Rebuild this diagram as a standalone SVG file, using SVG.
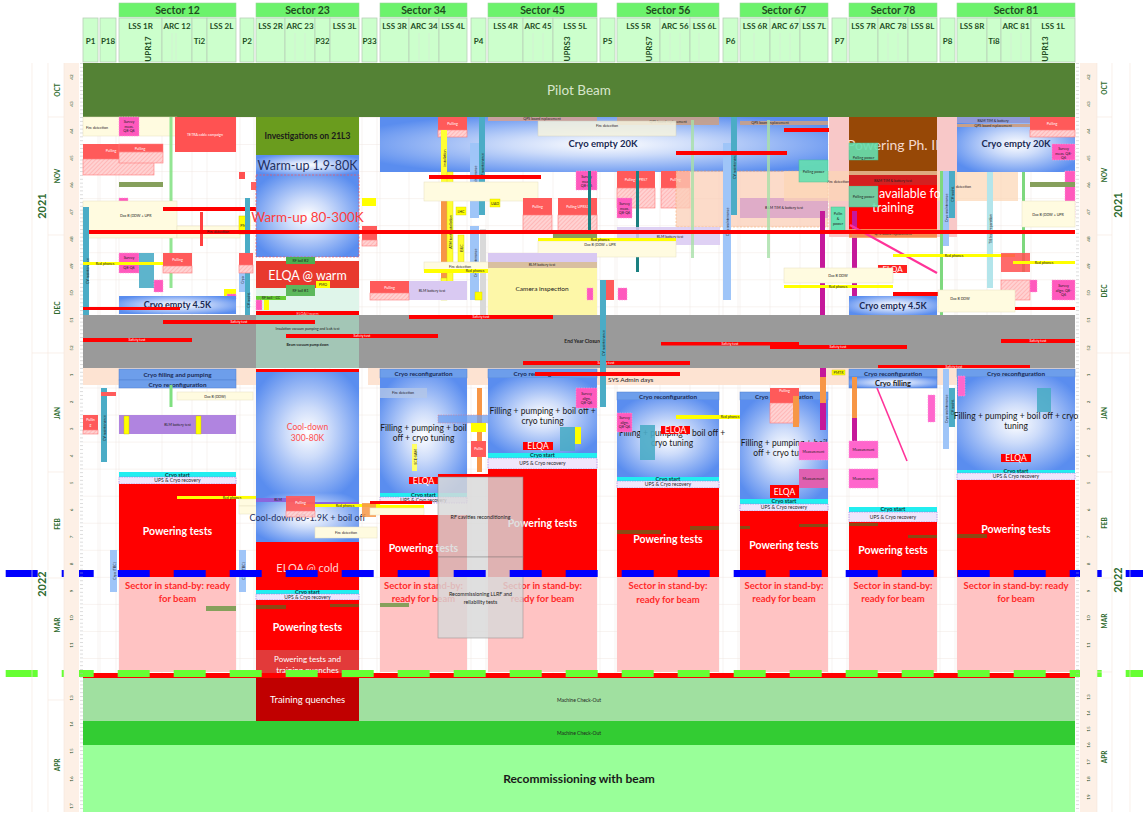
<svg xmlns="http://www.w3.org/2000/svg" width="1143" height="817" viewBox="0 0 1143 817">
<style>
text{font-family:Lato,"Liberation Sans",sans-serif}
.hd{font-size:10.5px;font-weight:700;fill:#1f4e1f;text-anchor:middle}
.sb{font-size:8px;font-weight:700;fill:#1f4e1f;text-anchor:middle}
.tn{font-size:3.6px;fill:#222}
.tc{font-size:3.6px;fill:#222;text-anchor:middle}
.tw{font-size:3.6px;fill:#fff;text-anchor:middle}
.sbox{fill:#ccffcc;stroke:#b8cfb8;stroke-width:.8}
.sec{fill:#6cf36c;stroke:#9ad89a;stroke-width:.6}
.rd{fill:#ff0000}
.sby{fill:#ffc3c3}
.cs{fill:#22eef0}
.ups{fill:#efe6fc;stroke:#a070e0;stroke-width:.6;stroke-dasharray:1.5 1}
.pk{fill:#ff59bd;stroke:#ff9ad8;stroke-width:.6;stroke-dasharray:1.5 1}
.tl{fill:#4bacc6}
.lbl{fill:#9fc5f8}
.yl{fill:#ffff00}
.py{fill:#fffbe0;stroke:#e6e0c0;stroke-width:.5}
.pull{fill:#ff5a5a}
.ht{fill:url(#hatch);stroke:#ff7a7a;stroke-width:.6}
.brn{fill:#8a4a14}
.ol{fill:#86a05c}
.pt{font-size:10.5px;font-weight:700;fill:#fff;text-anchor:middle}
.st{font-size:9.5px;font-weight:700;fill:#ff2a2a;text-anchor:middle}
.cr{fill:#6d9eeb;stroke:#4f7fd0;stroke-width:.5}
.crt{font-size:6.3px;font-weight:700;fill:#1a2a55;text-anchor:middle}
.cst{font-size:5.6px;font-weight:700;fill:#0a3a3a;text-anchor:middle}
.upt{font-size:5px;fill:#222;text-anchor:middle}
.elt{font-size:8.5px;fill:#fff;text-anchor:middle}
.gr{fill:url(#cg)}
.ft{font-size:8.5px;font-weight:700;fill:#1a1a1a;text-anchor:middle}
.ax{font-size:4.6px;fill:#1f4e1f;text-anchor:middle}
.mo{font-size:6.5px;font-weight:700;fill:#2d6a2d;text-anchor:middle}
.yr{font-size:11px;font-weight:700;fill:#2d6a2d;text-anchor:middle}
.grid{stroke:#efe7e2;stroke-width:.5}
.mag{fill:#c5189a}
.msr{fill:#ff66cc;stroke:#ff99dd;stroke-width:.6;stroke-dasharray:1.5 1}
.grn{fill:#66e0b0;stroke:#44c090;stroke-width:.5}
</style>
<defs>
<radialGradient id="cg" cx="0.5" cy="0.5" r="0.6">
<stop offset="0" stop-color="#ffffff"/>
<stop offset="0.35" stop-color="#cddcfa"/>
<stop offset="1" stop-color="#5a8def"/>
</radialGradient>
<pattern id="hatch" patternUnits="userSpaceOnUse" width="3" height="3" patternTransform="rotate(45)">
<rect width="3" height="3" fill="#ffd2d2"/>
<line x1="0" y1="0" x2="0" y2="3" stroke="#ff9c9c" stroke-width="1"/>
</pattern>
<pattern id="wk" patternUnits="userSpaceOnUse" x="0" y="117" width="10" height="27.05">
<line x1="0" y1="0.25" x2="10" y2="0.25" stroke="#f1e6df" stroke-width="0.6"/>
</pattern>
<pattern id="tk" patternUnits="userSpaceOnUse" x="0" y="63" width="4" height="3.86">
<line x1="0" y1="0.5" x2="3" y2="0.5" stroke="#b8b8b8" stroke-width="0.5"/>
</pattern>
</defs>

<rect width="1143" height="817" fill="#ffffff"/>

<g id="grid">
<rect x="83" y="117" width="992" height="556" fill="url(#wk)"/>
<path class="grid" d="M98 117V812M100 117V812M116 117V812M119 117V812M162 117V812M192 117V812M207 117V812M236 117V812M240 117V812M254 117V812M256 117V812M285 117V812M315 117V812M330 117V812M359 117V812M362 117V812M377 117V812M380 117V812M409 117V812M439 117V812M467 117V812M471 117V812M486 117V812M488 117V812M523 117V812M553 117V812M597 117V812M600 117V812M615 117V812M617 117V812M660 117V812M690 117V812M719 117V812M723 117V812M738 117V812M740 117V812M770 117V812M800 117V812M828 117V812M832 117V812M847 117V812M849 117V812M878 117V812M908 117V812M937 117V812M940 117V812M955 117V812M957 117V812M987 117V812M1001 117V812M1031 117V812"/>
</g>

<g id="pilot-beam">
<rect x="83" y="63" width="992" height="54" fill="#548235"/>
<text x="579" y="95" font-size="13.5" fill="#d8e6cc" text-anchor="middle">Pilot Beam</text>
</g>

<g id="autumn-sector12">
<rect class="py" x="83" y="117" width="94" height="19"/>
<text class="tn" x="86" y="129">Fire detection</text>
<rect class="pk" x="119" y="117" width="20" height="19"/>
<text class="tc" x="129" y="123">Survey</text><text class="tc" x="129" y="127.5">meas.</text><text class="tc" x="129" y="132">Q8-Q6</text>
<rect x="175" y="117" width="61" height="35" fill="#ff5252"/>
<text class="tw" x="205" y="136">TETRA cable campaign</text>
<rect class="pull" x="83" y="144" width="80" height="15"/>
<text class="tw" x="111" y="152" font-size="4.5">Pulling</text>
<rect class="ht" x="83" y="159" width="71" height="16"/>
<rect class="pull" x="119" y="144" width="44" height="8" stroke="#ff8080" stroke-width=".5"/>
<text class="tw" x="140" y="150" font-size="4.5">Pulling</text>
<rect class="ht" x="119" y="152" width="44" height="11"/>
<rect x="239" y="172" width="6" height="7" fill="#ff5050"/>
<rect x="251" y="182" width="5" height="8" fill="#ff6060"/>
<rect class="ol" x="119" y="182" width="44" height="5"/>
<rect x="169.5" y="117" width="3" height="171" fill="#80e080" opacity=".85"/>
<rect class="pk" x="119" y="198" width="9" height="20"/>
<rect class="py" x="83" y="201" width="94" height="37"/>
<text class="tn" x="120" y="217">Dax B (DDW + UPR</text>
<rect class="py" x="177" y="226" width="63" height="12"/>
<rect class="rd" x="163" y="207" width="152" height="4"/>
<rect class="tl" x="83" y="207" width="6" height="128"/>
<text class="tc" transform="rotate(-90 87 271)" x="87" y="272.5">CV maintenance</text>
<rect x="200" y="212" width="3" height="34" fill="#ff4040"/>
<rect class="yl" x="239" y="216" width="11" height="18" stroke="#d8c800" stroke-width=".5"/>
<text class="tc" x="244.5" y="226.5">PMO</text>
<rect class="tl" x="245" y="198" width="5" height="136"/>
<text class="tc" transform="rotate(-90 248 300)" x="248" y="301.5">CV maint.</text>
<rect class="lbl" x="239" y="258" width="6" height="34"/>
<text class="tc" transform="rotate(-90 242 280)" x="242" y="281.5">Cryo</text>
<rect class="pull" x="239" y="253" width="14" height="12"/>
<rect class="ht" x="239" y="265" width="14" height="8"/>
<rect class="pk" x="119" y="253" width="20" height="20"/>
<text class="tc" x="129" y="259">Survey</text>
<text class="tc" x="129" y="269">Q8-Q6</text>
<rect class="tl" x="139" y="253" width="15" height="35" opacity=".9"/>
<rect class="yl" x="83" y="262" width="94" height="3"/>
<text class="tc" x="105" y="264.8">Red phones</text>
<rect class="pk" x="154" y="280" width="9" height="12"/>
<rect class="pull" x="163" y="253" width="29" height="13"/>
<text class="tw" x="177.5" y="261" font-size="4.5">Pulling</text>
<rect class="ht" x="163" y="266" width="29" height="7"/>
<rect class="yl" x="224" y="289" width="12" height="7"/>
<rect class="pk" x="227" y="294" width="9" height="6"/>
<rect class="gr" x="119" y="296" width="117" height="18"/>
<text x="177.5" y="308" font-size="9" font-weight="700" fill="#1a2a55" text-anchor="middle">Cryo empty 4.5K</text>
<rect class="rd" x="83" y="307" width="97" height="3"/>
</g>

<g id="autumn-sector23">
<rect x="256" y="117" width="103" height="38" fill="#6a9c1e"/>
<text class="ft" x="307.5" y="139">Investigations on 21L3</text>
<rect class="gr" x="256" y="155" width="103" height="20"/>
<text x="307.5" y="170" font-size="12.5" fill="#1f3060" text-anchor="middle">Warm-up 1.9-80K</text>
<rect class="gr" x="256" y="175" width="103" height="82" stroke="#ff5050" stroke-width=".7" stroke-dasharray="2 1.5"/>
<text x="307.5" y="222" font-size="13.5" fill="#ff3c3c" text-anchor="middle">Warm-up 80-300K</text>
<rect x="256" y="261" width="103" height="27" fill="#e8392e"/>
<text x="307.5" y="280" font-size="12.5" fill="#fff" text-anchor="middle">ELQA @ warm</text>
<rect x="286" y="257" width="29" height="7" fill="#4caf50"/>
<text class="tc" x="300.5" y="262">RF ball B2</text>
<rect x="256" y="288" width="103" height="25" fill="#dff5ea"/>
<rect x="286" y="285" width="29" height="11" fill="#5cb85c"/>
<text class="tc" x="300.5" y="292">RF ball B1</text>
<rect class="yl" x="316" y="281" width="14" height="7"/>
<text class="tc" x="323" y="286">PMO</text>
<rect x="256" y="296" width="30" height="4" fill="#66cc33"/>
<text class="tc" x="271" y="299">RF ball - CC</text>
<rect class="pk" x="256" y="300" width="6" height="10"/>
<rect class="yl" x="264" y="300" width="5" height="10"/>
<rect class="rd" x="256" y="311" width="103" height="4"/>
<text x="307.5" y="314.5" font-size="3.8" fill="#ffc8c8" text-anchor="middle">ELQA@warm</text>
<rect class="yl" x="362" y="198" width="14" height="8"/>
<rect class="pull" x="362" y="226" width="15" height="14"/>
<rect class="ht" x="362" y="240" width="15" height="6"/>
</g>

<g id="autumn-sectors-34-67">
<rect class="gr" x="380" y="117" width="448" height="55"/>
<text x="603" y="147" font-size="9.5" font-weight="700" fill="#1a2a55" text-anchor="middle">Cryo empty 20K</text>
<rect x="488" y="117" width="109" height="4" fill="#c9a0a0"/>
<text class="tc" x="542" y="120">QPS board replacement</text>
<rect x="617" y="117" width="102" height="8" fill="#c8a08a" opacity=".9"/>
<text class="tc" x="668" y="122.5">QPS board replacement</text>
<rect x="740" y="121" width="88" height="4" fill="#c8a08a" opacity=".9"/>
<text class="tc" x="770" y="124.3">QPS board replacement</text>
<rect x="538" y="121" width="138" height="15" fill="#f6f4e0" opacity=".85" stroke="#d8d4b8" stroke-width=".5"/>
<text class="tc" x="607" y="127">Fire detection</text>
<rect class="pull" x="438" y="117" width="29" height="13"/>
<text class="tw" x="452.5" y="125" font-size="4.5">Pulling</text>
<rect class="ht" x="438" y="130" width="29" height="7"/>
<rect x="441" y="130" width="6" height="116" fill="#ffff33"/>
<text class="tc" transform="rotate(-90 444 158)" x="444" y="159.5">installation</text>
<rect x="441" y="187" width="6" height="91" fill="#f79646"/>
<rect x="441" y="278" width="6" height="22" fill="#ffff33" stroke="#c8c000" stroke-width=".4"/>
<rect x="447" y="172" width="6" height="123" fill="#ffff33" stroke="#d8d000" stroke-width=".4"/>
<text class="tc" transform="rotate(-90 450 232)" x="450" y="233.5">ATM tank installation</text>
<rect x="458" y="235" width="6" height="27" fill="#ffff33" stroke="#d8d000" stroke-width=".4"/>
<text class="tc" transform="rotate(-90 461 248)" x="461" y="249.5">BUC</text>
<rect class="lbl" x="470" y="143" width="9" height="75"/>
<text class="tc" transform="rotate(-90 474.5 180)" x="474.5" y="182" font-size="4.2">Cryo maintenance</text>
<rect class="lbl" x="470" y="226" width="9" height="74"/>
<text class="tc" transform="rotate(-90 474.5 263)" x="474.5" y="265" font-size="4.2">Cryo maintenance</text>
<rect class="tl" x="479" y="117" width="6" height="98"/>
<text class="tc" transform="rotate(-90 482 166)" x="482" y="167.5">CV maintenance</text>
<rect x="480" y="229" width="6" height="86" fill="#d9d9d9"/>
<rect class="rd" x="429" y="175" width="112" height="4"/>
<rect class="py" x="424" y="182" width="114" height="19"/>
<rect class="yl" x="456" y="207" width="10" height="8" stroke="#d8d000" stroke-width=".4"/>
<text class="tc" x="461" y="212.5">LHC</text>
<rect class="yl" x="490" y="199" width="10" height="8" stroke="#d8d000" stroke-width=".4"/>
<text class="tc" x="495" y="204.5">UAD</text>
<rect class="pull" x="523" y="198" width="29" height="17"/>
<text class="tw" x="537.5" y="208" font-size="4.5">Pulling</text>
<rect class="ht" x="523" y="215" width="29" height="18"/>
<rect class="pull" x="558" y="198" width="39" height="17"/>
<text class="tw" x="577.5" y="208" font-size="4.5">Pulling UPR53</text>
<rect class="ht" x="558" y="215" width="39" height="18"/>
<rect class="pk" x="576" y="171" width="21" height="19"/>
<text class="tc" x="586.5" y="178">Survey</text><text class="tc" x="586.5" y="182.5">meas.</text><text class="tc" x="586.5" y="187">Q8-Q6</text>
<rect x="588" y="171" width="3" height="101" fill="#1a8080"/>
<rect class="pull" x="617" y="171" width="38" height="17"/>
<text class="tw" x="636" y="181" font-size="4.5">Pulling UPR57</text>
<rect class="ht" x="617" y="188" width="38" height="20"/>
<rect class="pull" x="661" y="171" width="29" height="17"/>
<text class="tw" x="675.5" y="181" font-size="4.5">Pulling</text>
<rect class="ht" x="661" y="188" width="29" height="20"/>
<rect x="636" y="171" width="3" height="101" fill="#1a8080"/>
<rect class="pk" x="617" y="198" width="15" height="20"/>
<text class="tc" x="624.5" y="205">Survey</text><text class="tc" x="624.5" y="209.5">meas.</text><text class="tc" x="624.5" y="214">Q8-Q6</text>
<rect x="676" y="171" width="152" height="56" fill="#fbcfb8" opacity=".75" stroke="#f79646" stroke-width=".6" stroke-dasharray="2 1.5"/>
<rect x="740" y="198" width="88" height="20" fill="#d9a3c8" opacity=".85"/>
<text class="tc" x="784" y="209">B&amp;M TIM &amp; battery test</text>
<rect x="617" y="227" width="103" height="18" fill="#d9c9f2" opacity=".85"/>
<text class="tc" x="670" y="237.5">BLM battery test</text>
<rect class="ol" x="553" y="234" width="44" height="4"/>
<rect class="py" x="538" y="241" width="138" height="16"/>
<rect class="yl" x="538" y="238" width="138" height="3"/>
<text class="tc" x="600" y="240.6">Red phones</text>
<text class="tc" x="600" y="246">Dax B (DDW + UPR</text>
<rect class="py" x="424" y="262" width="114" height="9"/>
<text class="tc" x="460" y="267.5">Fire detection</text>
<rect class="yl" x="424" y="269" width="114" height="4"/>
<text class="tc" x="475" y="272.2">Red phones</text>
<rect x="488" y="253" width="109" height="9" fill="#d9c9f2"/>
<rect x="488" y="262" width="109" height="6" fill="#d9bf9f"/>
<text class="tc" x="542" y="266.3">BLM battery test</text>
<rect x="488" y="268" width="109" height="47" fill="#fdf7a8"/>
<text x="542" y="291" font-size="6.5" fill="#222" text-anchor="middle">Camera inspection</text>
<rect x="409" y="281" width="58" height="19" fill="#d9c9f2"/>
<text class="tc" x="432" y="292">BLM battery test</text>
<rect class="pull" x="370" y="281" width="39" height="12"/>
<text class="tw" x="389.5" y="288.5" font-size="4.5">Pulling</text>
<rect class="ht" x="370" y="293" width="39" height="7"/>
<rect class="yl" x="475" y="292" width="7" height="8" stroke="#d8d000" stroke-width=".4"/>
<rect class="pk" x="587" y="288" width="6" height="12"/>
<rect class="pull" x="606" y="280" width="8" height="20"/>
<rect class="pk" x="618" y="288" width="9" height="12"/>
<rect class="lbl" x="723" y="143" width="8" height="157"/>
<text class="tc" transform="rotate(-90 727 222)" x="727" y="223.5" font-size="4.2">Cryo maintenance</text>
<rect class="tl" x="731" y="117" width="6" height="98"/>
<text class="tc" transform="rotate(-90 734 166)" x="734" y="167.5">CV maintenance</text>
<rect x="691" y="120" width="3" height="138" fill="#a8e0a8" opacity=".8"/>
<rect x="767" y="120" width="3" height="138" fill="#a8e0a8" opacity=".8"/>
<rect class="rd" x="676" y="151" width="111" height="4"/>
<rect class="rd" x="784" y="128" width="111" height="4"/>
</g>

<g id="autumn-sector78-81">
<rect x="829" y="117" width="20" height="120" fill="#f8c8c8"/>
<rect x="937" y="117" width="20" height="120" fill="#f8c8c8"/>
<rect x="849" y="117" width="88" height="58" fill="#974806"/>
<text x="893" y="150" font-size="14" fill="#f4d8cc" text-anchor="middle">Powering Ph. II</text>
<rect x="784" y="171" width="234" height="30" fill="#fcd5b4" opacity=".7"/>
<text class="tc" x="838" y="183">Fire detection</text>
<text class="tc" x="960" y="188">Fire detection</text>
<rect x="849" y="175" width="88" height="10" fill="#d42020"/>
<text class="tc" x="893" y="181.5">B&amp;M TIM &amp; battery test</text>
<rect x="849" y="185" width="88" height="52" fill="#ff0000"/>
<text x="879" y="198" font-size="12.5" fill="#fff">available for</text>
<text x="893" y="212" font-size="12.5" fill="#fff" text-anchor="middle">training</text>
<rect class="grn" x="849" y="143" width="29" height="17" opacity=".9"/>
<text class="tc" x="863.5" y="158.5">Polling power</text>
<rect class="grn" x="799" y="160" width="29" height="22" opacity=".9"/>
<text class="tc" x="813.5" y="172.5">Polling power</text>
<rect class="grn" x="849" y="186" width="29" height="21" opacity=".9"/>
<text class="tc" x="863.5" y="198">Polling power</text>
<rect class="grn" x="831" y="207" width="14" height="26"/>
<text class="tc" x="838" y="215">Pullin</text><text class="tc" x="838" y="220">&amp;</text><text class="tc" x="838" y="225">power</text>
<rect class="mag" x="820" y="211" width="5" height="104"/>
<rect class="mag" x="852" y="211" width="5" height="104"/>
<rect x="849" y="229" width="88" height="9" fill="#f4a460" opacity=".85"/>
<text class="tc" x="893" y="234.5">QPS board replacement</text>
<line x1="850" y1="225" x2="937" y2="273" stroke="#ff3399" stroke-width="2.2"/>
<rect x="940" y="171" width="3" height="144" fill="#7ed87e"/>
<rect class="lbl" x="943" y="171" width="6" height="75"/>
<text class="tc" transform="rotate(-90 946 208)" x="946" y="209.5">Cryo maintenance</text>
<rect class="tl" x="949" y="171" width="6" height="47"/>
<text class="tc" transform="rotate(-90 952 194)" x="952" y="195.5">CV maint.</text>
<rect x="987" y="171" width="6" height="117" fill="#b3e5eb"/>
<text class="tc" transform="rotate(-90 990 229)" x="990" y="230.5">Ti8 leak reparation</text>
<rect x="1022" y="171" width="3" height="101" fill="#7ed87e"/>
<rect class="yl" x="893" y="254" width="122" height="3"/>
<text class="tc" x="954" y="256.5">Red phones</text>
<rect x="878" y="265" width="29" height="8" fill="#ff2020"/>
<text x="892.5" y="272" font-size="8" fill="#fff" text-anchor="middle">ELQA</text>
<rect x="1001" y="253" width="29" height="19" fill="#ff5050" opacity=".85"/>
<rect class="yl" x="1013" y="261" width="62" height="3"/>
<text class="tc" x="1044" y="263.5">Red phones</text>
<rect class="py" x="784" y="268" width="109" height="15"/>
<text class="tc" x="838" y="277">Dax B DDW</text>
<rect class="yl" x="784" y="285" width="109" height="3"/>
<text class="tc" x="838" y="287.5">Red phones</text>
<rect class="rd" x="893" y="292" width="125" height="4"/>
<rect class="ht" x="1001" y="280" width="29" height="20"/>
<rect class="pk" x="1030" y="280" width="7" height="12"/>
<rect class="pk" x="1052" y="280" width="23" height="20"/>
<text class="tc" x="1063.5" y="287">Survey</text><text class="tc" x="1063.5" y="291.5">align. Q8-</text><text class="tc" x="1063.5" y="296">Q6</text>
<rect class="py" x="938" y="290" width="77" height="22"/>
<text class="tc" x="960" y="300">Dax B DDW</text>
<rect class="gr" x="849" y="296" width="88" height="19"/>
<text x="893" y="309" font-size="9" font-weight="700" fill="#1a2a55" text-anchor="middle">Cryo empty 4.5K</text>
<rect class="rd" x="1015" y="307" width="60" height="3"/>
<rect class="gr" x="957" y="117" width="118" height="55"/>
<text x="1016" y="147" font-size="9.5" font-weight="700" fill="#1a2a55" text-anchor="middle">Cryo empty 20K</text>
<rect x="957" y="117" width="73" height="6" fill="#8f9ad8"/>
<text class="tc" x="993" y="121.5">B&amp;M TIM &amp; battery</text>
<rect x="957" y="124" width="73" height="3" fill="#c8a08a"/>
<text class="tc" x="993" y="126.6">QPS board replacement</text>
<rect class="pull" x="1030" y="117" width="45" height="13"/>
<text class="tw" x="1052" y="124.5" font-size="4.5">Pulling</text>
<rect class="ht" x="1030" y="130" width="45" height="7"/>
<rect class="pk" x="1052" y="144" width="23" height="16"/>
<text class="tc" x="1063.5" y="150">Survey</text><text class="tc" x="1063.5" y="154.5">meas. Q8-</text><text class="tc" x="1063.5" y="159">Q6</text>
<rect class="pk" x="1065" y="171" width="10" height="47"/>
<rect class="ol" x="1030" y="182" width="45" height="5"/>
<rect class="py" x="1022" y="201" width="53" height="26"/>
<text class="tc" x="1048" y="216">Dax B (DDW + UPR</text>
</g>

<g id="big-red-line">
<rect class="rd" x="89" y="230" width="986" height="4"/>
<text class="tn" x="207" y="233.3">Fire detection</text>
</g>

<g id="end-year-closure">
<rect x="83" y="315" width="992" height="53" fill="#9a9a9a"/>
<rect x="256" y="315" width="103" height="53" fill="#a3c6b6"/>
<text class="tc" x="307.5" y="330" font-size="4">Insulation vacuum pumping and leak test</text>
<text class="tc" x="307.5" y="346" font-size="4" font-weight="700">Beam vacuum pump down</text>
<text x="583" y="343" font-size="5" font-weight="700" fill="#222" text-anchor="middle">End Year Closure</text>
<rect class="rd" x="163" y="320" width="152" height="4"/><text class="tw" x="239" y="323.2">Safety test</text>
<rect class="rd" x="83" y="338" width="109" height="4"/><text class="tw" x="137" y="341.2">Safety test</text>
<rect class="rd" x="286" y="334" width="152" height="4"/><text class="tw" x="362" y="337.2">Safety test</text>
<rect class="rd" x="409" y="315" width="144" height="4"/><text class="tw" x="481" y="318.2">Safety test</text>
<rect class="rd" x="661" y="342" width="138" height="3.5"/><text class="tw" x="730" y="345">Safety test</text>
<rect class="rd" x="770" y="345" width="137" height="4"/><text class="tw" x="838" y="348.2">Safety test</text>
<rect class="rd" x="1001" y="339" width="74" height="4"/><text class="tw" x="1038" y="342.2">Safety test</text>
<rect class="rd" x="523" y="361" width="167" height="4"/><text class="tw" x="606" y="364.2">Safety test</text>
<rect class="rd" x="878" y="365" width="152" height="4"/><text class="tw" x="954" y="368.2">Safety test</text>
<rect x="368" y="368" width="707" height="17" fill="#fde3d2"/>
<rect x="83" y="368" width="173" height="17" fill="#fde3d2"/>
<rect class="tl" x="600" y="280" width="6" height="127"/>
<text class="tc" transform="rotate(-90 603 343)" x="603" y="344.5">CV maintenance</text>
<text x="608" y="381.5" font-size="6.5" fill="#222">SYS Admin days</text>
</g>

<g id="sector12-2022">
<rect class="cr" x="119" y="369" width="117" height="11"/>
<text class="crt" x="177.5" y="377.3">Cryo filling and pumping</text>
<rect class="cr" x="119" y="380" width="117" height="8"/>
<text class="crt" x="177.5" y="386.5" font-size="5.8">Cryo reconfiguration</text>
<rect x="169.5" y="385" width="3" height="22" fill="#80e080"/>
<rect class="py" x="177" y="392" width="76" height="8"/>
<text class="tc" x="215" y="397.5">Dax B (DDW)</text>
<rect class="tl" x="101" y="388" width="6" height="74"/>
<text class="tc" transform="rotate(-90 104 428)" x="104" y="429.5">CV maintenance</text>
<rect class="pull" x="101" y="392" width="15" height="4"/>
<rect class="pull" x="83" y="415" width="15" height="15"/>
<text class="tw" x="90.5" y="421">Pullin</text><text class="tw" x="90.5" y="425.5">g</text>
<rect class="ht" x="83" y="430" width="15" height="4"/>
<rect x="119" y="415" width="117" height="19" fill="#b084e0"/>
<text class="tc" x="177.5" y="426">BLM battery test</text>
<rect class="yl" x="124" y="416" width="5" height="18" stroke="#c8c000" stroke-width=".4"/>
<rect class="yl" x="196" y="416" width="5" height="18" stroke="#c8c000" stroke-width=".4"/>
<rect class="cs" x="119" y="472" width="117" height="5"/>
<text class="cst" x="177.5" y="476.6">Cryo start</text>
<rect class="ups" x="119" y="477" width="117" height="7"/>
<text class="upt" x="177.5" y="482.3">UPS &amp; Cryo recovery</text>
<rect class="rd" x="119" y="484" width="117" height="93"/>
<text class="pt" x="177.5" y="535">Powering tests</text>
<rect class="sby" x="119" y="577" width="117" height="95"/>
<text class="st" x="177.5" y="589">Sector in stand-by: ready</text>
<text class="st" x="177.5" y="602">for beam</text>
<rect class="ol" x="206" y="606" width="30" height="5"/>
<rect class="lbl" x="110" y="550" width="7" height="42"/>
<text class="tc" transform="rotate(-90 113.5 571)" x="113.5" y="573" font-size="4.5">Cryo (TBC)</text>
<rect class="lbl" x="239" y="550" width="7" height="42"/>
<text class="tc" transform="rotate(-90 242.5 571)" x="242.5" y="573" font-size="4.5">Cryo (TBC)</text>
<rect class="yl" x="177" y="496" width="123" height="3"/>
<text class="tc" x="232" y="498.5">Red phones</text>
<rect class="py" x="239" y="499" width="61" height="7"/>
<rect class="py" x="239" y="506" width="61" height="8"/>
<text class="tn" x="259" y="511.5">Fire detection</text>
</g>

<g id="sector23-2022">
<rect class="rd" x="256" y="369" width="103" height="3"/>
<rect class="gr" x="256" y="372" width="103" height="121"/>
<text x="307.5" y="430" font-size="8.5" fill="#ff4d4d" text-anchor="middle">Cool-down</text>
<text x="307.5" y="441" font-size="8.5" fill="#ff4d4d" text-anchor="middle">300-80K</text>
<rect class="gr" x="256" y="493" width="103" height="49"/>
<rect x="256" y="498" width="44" height="4" fill="#8a66dd"/>
<text class="tc" x="278" y="501">BLM</text>
<rect x="300" y="502" width="59" height="4" fill="#8a66dd"/>
<rect class="yl" x="300" y="504" width="80" height="3"/>
<text class="tc" x="345" y="506.5">Red phones</text>
<text x="307.5" y="521" font-size="9" fill="#1f3060" text-anchor="middle">Cool-down 80-1.9K + boil off</text>
<rect class="pull" x="286" y="496" width="29" height="15" opacity=".92"/>
<text class="tw" x="300.5" y="504" font-size="4.5">Pulling</text>
<rect class="ht" x="286" y="511" width="29" height="6" opacity=".9"/>
<rect class="py" x="315" y="527" width="62" height="11"/>
<text class="tc" x="346" y="533.5">Fire detection</text>
<rect x="362" y="503" width="14" height="14" fill="#f79646" opacity=".85"/>
<rect class="rd" x="256" y="542" width="103" height="48"/>
<text x="307.5" y="572" font-size="11" fill="#ffd6d6" text-anchor="middle">ELQA @ cold</text>
<rect class="cs" x="256" y="590" width="103" height="4"/>
<text class="cst" x="307.5" y="593.6" font-size="5">Cryo start</text>
<rect class="ups" x="256" y="594" width="103" height="6"/>
<text class="upt" x="307.5" y="598.8" font-size="4.6">UPS &amp; Cryo recovery</text>
<rect class="rd" x="256" y="600" width="103" height="50"/>
<text class="pt" x="307.5" y="631">Powering tests</text>
<rect class="brn" x="256" y="605" width="30" height="4"/>
<rect class="brn" x="330" y="604" width="29" height="3"/>
<rect x="256" y="650" width="103" height="28" fill="#e23a3a"/>
<text x="307.5" y="662" font-size="8" fill="#fff" text-anchor="middle">Powering tests and</text>
<text x="307.5" y="673" font-size="8" fill="#fff" text-anchor="middle">training quenches</text>
</g>

<g id="sector34-2022">
<rect class="cr" x="380" y="369" width="87" height="9"/>
<text class="crt" x="423.5" y="376" font-size="5.8">Cryo reconfiguration</text>
<rect class="gr" x="380" y="378" width="87" height="115"/>
<rect x="380" y="388" width="47" height="10" fill="#b4c7e7" opacity=".8"/>
<text class="tc" x="403" y="394">Fire detection</text>
<text x="423.5" y="431" font-size="8.5" fill="#1a1a1a" text-anchor="middle">Filling + pumping + boil</text>
<text x="423.5" y="441" font-size="8.5" fill="#1a1a1a" text-anchor="middle">off + cryo tuning</text>
<rect x="412" y="444" width="5" height="27" fill="#ffff66"/>
<text class="tc" transform="rotate(-90 414.5 457)" x="414.5" y="459" font-size="4.2">SCE-SAM</text>
<rect class="rd" x="409" y="477" width="29" height="7"/>
<text class="elt" x="423.5" y="483.5" font-size="8">ELQA</text>
<rect class="cs" x="380" y="493" width="87" height="4"/>
<text class="cst" x="423.5" y="496.6" font-size="5">Cryo start</text>
<rect class="ups" x="380" y="497" width="87" height="6"/>
<text class="upt" x="423.5" y="501.8" font-size="4.6">UPS &amp; Cryo recovery</text>
<rect class="rd" x="370" y="501" width="62" height="3"/>
<rect class="yl" x="376" y="505" width="48" height="3"/>
<rect class="py" x="370" y="508" width="54" height="7"/>
<rect class="rd" x="380" y="515" width="87" height="62"/>
<text class="pt" x="423.5" y="552">Powering tests</text>
<rect class="sby" x="380" y="577" width="87" height="95"/>
<text class="st" x="423.5" y="589">Sector in stand-by:</text>
<text class="st" x="423.5" y="602">ready for beam</text>
<rect class="ol" x="380" y="603" width="29" height="4"/>
<rect x="477" y="388" width="5" height="84" fill="#f79646"/>
<rect x="438" y="415" width="85" height="8" fill="#6fa0f0" opacity=".75" stroke="#ff6060" stroke-width=".5" stroke-dasharray="1.5 1"/>
<rect class="yl" x="471" y="423" width="15" height="9"/>
<rect class="pull" x="471" y="441" width="15" height="16"/>
<text class="tw" x="478.5" y="450">Pullin</text>
</g>

<g id="sector45-2022">
<rect class="cr" x="488" y="369" width="109" height="9"/>
<text class="crt" x="542.5" y="376" font-size="5.8">Cryo reconfiguration</text>
<rect class="rd" x="535" y="372" width="145" height="4"/>
<rect class="gr" x="488" y="378" width="109" height="75"/>
<text x="542.5" y="414" font-size="8.5" fill="#1a1a1a" text-anchor="middle">Filling + pumping + boil off +</text>
<text x="542.5" y="424" font-size="8.5" fill="#1a1a1a" text-anchor="middle">cryo tuning</text>
<rect class="pk" x="576" y="388" width="21" height="20"/>
<text class="tc" x="586.5" y="395">Survey</text><text class="tc" x="586.5" y="399.5">align.</text><text class="tc" x="586.5" y="404">Q8-Q6</text>
<rect class="tl" x="560" y="427" width="15" height="24" opacity=".9"/>
<rect class="yl" x="575" y="427" width="6" height="17"/>
<rect class="rd" x="523" y="442" width="30" height="8"/>
<text class="elt" x="538" y="449" font-size="8">ELQA</text>
<rect class="cs" x="488" y="453" width="109" height="5"/>
<text class="cst" x="542.5" y="457.4" font-size="5.2">Cryo start</text>
<rect class="ups" x="488" y="458" width="109" height="11"/>
<text class="upt" x="542.5" y="465.3">UPS &amp; Cryo recovery</text>
<rect class="rd" x="488" y="469" width="109" height="108"/>
<text class="pt" x="542.5" y="527">Powering tests</text>
<rect class="sby" x="488" y="577" width="109" height="95"/>
<text class="st" x="542.5" y="589">Sector in stand-by:</text>
<text class="st" x="542.5" y="602">ready for beam</text>
<rect x="438" y="474" width="85" height="3" fill="#ff0000"/>
<rect x="438" y="477" width="85" height="80" fill="#d9d9d9" opacity=".82" stroke="#8a8a8a" stroke-width=".6"/>
<text x="480.5" y="519" font-size="5.3" fill="#222" text-anchor="middle">RF cavities reconditioning</text>
<rect x="438" y="557" width="85" height="81" fill="#d9d9d9" opacity=".82" stroke="#8a8a8a" stroke-width=".6"/>
<text x="480.5" y="596" font-size="5.3" fill="#222" text-anchor="middle">Recommissioning LLRF and</text>
<text x="480.5" y="603.5" font-size="5.3" fill="#222" text-anchor="middle">reliability tests</text>
</g>

<g id="sector56-2022">
<rect class="cr" x="617" y="392" width="102" height="8"/>
<text class="crt" x="668" y="398.5" font-size="5.8">Cryo reconfiguration</text>
<rect class="gr" x="617" y="400" width="102" height="77"/>
<text x="672" y="436" font-size="8.5" fill="#1a1a1a" text-anchor="middle">Filling + pumping + boil off +</text>
<text x="672" y="446" font-size="8.5" fill="#1a1a1a" text-anchor="middle">cryo tuning</text>
<rect class="rd" x="661" y="426" width="29" height="8"/>
<text class="elt" x="675.5" y="433" font-size="8">ELQA</text>
<rect class="pk" x="617" y="413" width="15" height="19"/>
<text class="tc" x="624.5" y="419">Survey</text><text class="tc" x="624.5" y="423.5">align.</text><text class="tc" x="624.5" y="428">Q8-Q6</text>
<rect class="tl" x="640" y="425" width="15" height="35" opacity=".9"/>
<rect class="yl" x="676" y="415" width="107" height="4"/>
<text class="tc" x="730" y="418.3">Red phones</text>
<rect class="cs" x="617" y="477" width="102" height="4"/>
<text class="cst" x="668" y="480.6" font-size="5">Cryo start</text>
<rect class="ups" x="617" y="481" width="102" height="7"/>
<text class="upt" x="668" y="486.3">UPS &amp; Cryo recovery</text>
<rect class="rd" x="617" y="488" width="102" height="89"/>
<text class="pt" x="668" y="543">Powering tests</text>
<rect class="brn" x="617" y="530" width="44" height="4"/>
<rect class="brn" x="690" y="526" width="29" height="4"/>
<rect class="sby" x="617" y="577" width="102" height="95"/>
<text class="st" x="668" y="589">Sector in stand-by:</text>
<text class="st" x="668" y="603">ready for beam</text>
</g>

<g id="sector67-2022">
<rect class="cr" x="740" y="392" width="88" height="8"/>
<text class="crt" x="784" y="398.5" font-size="5.8">Cryo reconfiguration</text>
<rect class="gr" x="740" y="400" width="88" height="100"/>
<rect class="pull" x="770" y="388" width="29" height="15"/>
<text class="tw" x="784.5" y="392.3" font-size="4">Pulling</text>
<rect class="ht" x="770" y="403" width="29" height="20"/>
<rect x="793" y="396" width="6" height="31" fill="#f79646"/>
<rect class="mag" x="820" y="368" width="6" height="9"/>
<rect x="820" y="377" width="6" height="26" fill="#f79646"/>
<rect class="mag" x="820" y="403" width="6" height="27"/>
<text x="784" y="446" font-size="8.5" fill="#1a1a1a" text-anchor="middle">Filling + pumping + boil</text>
<text x="784" y="456" font-size="8.5" fill="#1a1a1a" text-anchor="middle">off + cryo tuning</text>
<rect class="msr" x="799" y="442" width="29" height="18"/>
<text class="tc" x="813.5" y="452.5">Measurement</text>
<rect x="799" y="469" width="29" height="19" fill="#e060b0"/>
<text class="tc" x="813.5" y="479.5">Measurement</text>
<rect class="rd" x="770" y="485" width="29" height="13"/>
<text class="elt" x="784.5" y="495">ELQA</text>
<rect class="cs" x="740" y="499" width="88" height="5"/>
<text class="cst" x="784" y="503.3" font-size="5">Cryo start</text>
<rect class="ups" x="740" y="504" width="88" height="7"/>
<text class="upt" x="784" y="509.3">UPS &amp; Cryo recovery</text>
<rect class="rd" x="740" y="511" width="88" height="66"/>
<text class="pt" x="784" y="549">Powering tests</text>
<rect class="brn" x="740" y="526" width="10" height="3"/>
<rect class="brn" x="799" y="524" width="29" height="3"/>
<rect class="sby" x="740" y="577" width="88" height="95"/>
<text class="st" x="784" y="589">Sector in stand-by:</text>
<text class="st" x="784" y="602">ready for beam</text>
</g>

<g id="sector78-2022">
<rect class="yl" x="832" y="370" width="13" height="5" stroke="#c8c000" stroke-width=".4"/>
<text class="tc" x="838.5" y="373.6">PMTR</text>
<rect class="cr" x="849" y="369" width="88" height="8"/>
<text class="crt" x="893" y="375.5" font-size="5.8">Cryo reconfiguration</text>
<rect class="gr" x="849" y="377" width="88" height="11" stroke="#4f7fd0" stroke-width=".5"/>
<text x="893" y="385.5" font-size="7.5" font-weight="700" fill="#1a1a1a" text-anchor="middle">Cryo filling</text>
<rect x="852" y="377" width="5" height="41" fill="#f79646"/>
<rect class="mag" x="852" y="418" width="5" height="27"/>
<line x1="877" y1="388" x2="907" y2="461" stroke="#ff3399" stroke-width="1.6"/>
<rect class="msr" x="849" y="441" width="29" height="17"/>
<text class="tc" x="863.5" y="451">Measurement</text>
<rect class="msr" x="849" y="469" width="29" height="19"/>
<text class="tc" x="863.5" y="479.5">Measurement</text>
<rect class="msr" x="928" y="395" width="7" height="27"/>
<rect class="lbl" x="943" y="369" width="6" height="80"/>
<text class="tc" transform="rotate(-90 946 409)" x="946" y="410.5">Cryo maintenance</text>
<rect class="tl" x="949" y="388" width="6" height="39"/>
<text class="tc" transform="rotate(-90 952 407)" x="952" y="408.5">CV maint.</text>
<rect class="cs" x="849" y="507" width="88" height="5"/>
<text class="cst" x="893" y="511.3" font-size="5">Cryo start</text>
<rect class="ups" x="849" y="512" width="88" height="10"/>
<text class="upt" x="893" y="518.8">UPS &amp; Cryo recovery</text>
<rect class="rd" x="849" y="522" width="88" height="55"/>
<text class="pt" x="893" y="554">Powering tests</text>
<rect class="brn" x="849" y="523" width="29" height="3"/>
<rect class="brn" x="908" y="535" width="29" height="3"/>
<rect class="sby" x="849" y="577" width="88" height="95"/>
<text class="st" x="893" y="589">Sector in stand-by:</text>
<text class="st" x="893" y="602">ready for beam</text>
</g>

<g id="sector81-2022">
<rect class="cr" x="957" y="369" width="118" height="8"/>
<text class="crt" x="1016" y="375.5" font-size="5.8">Cryo reconfiguration</text>
<rect class="gr" x="957" y="377" width="118" height="93"/>
<text x="1016" y="419" font-size="8.5" fill="#1a1a1a" text-anchor="middle">Filling + pumping + boil off + cryo</text>
<text x="1016" y="429" font-size="8.5" fill="#1a1a1a" text-anchor="middle">tuning</text>
<rect class="msr" x="958" y="376" width="7" height="20"/>
<rect class="tl" x="1037" y="388" width="14" height="24" opacity=".9"/>
<rect class="rd" x="1001" y="454" width="30" height="8"/>
<text class="elt" x="1016" y="461" font-size="8">ELQA</text>
<rect class="cs" x="957" y="470" width="118" height="3"/>
<text class="cst" x="1016" y="473" font-size="4.5">Cryo start</text>
<rect class="ups" x="957" y="473" width="118" height="7"/>
<text class="upt" x="1016" y="478.3">UPS &amp; Cryo recovery</text>
<rect class="rd" x="957" y="480" width="118" height="97"/>
<text class="pt" x="1016" y="533">Powering tests</text>
<rect class="brn" x="957" y="534" width="30" height="4"/>
<rect class="sby" x="957" y="577" width="118" height="95"/>
<text class="st" x="1016" y="589">Sector in stand-by: ready</text>
<text class="st" x="1016" y="602">for beam</text>
</g>

<g id="machine-checkout">
<rect x="83" y="673" width="992" height="5" fill="#ff0000"/>
<rect x="83" y="678" width="992" height="43" fill="#a0e0a0"/>
<text x="579" y="702" font-size="5" fill="#222" text-anchor="middle">Machine Check-Out</text>
<rect x="83" y="721" width="992" height="24" fill="#33cc33"/>
<text x="579" y="735" font-size="5" fill="#222" text-anchor="middle">Machine Check-Out</text>
<rect x="83" y="745" width="992" height="67" fill="#99ff99"/>
<text x="579" y="783" font-size="12" font-weight="700" fill="#1a1a1a" text-anchor="middle">Recommissioning with beam</text>
<rect x="256" y="678" width="103" height="43" fill="#c00000"/>
<text x="307.5" y="703" font-size="9.5" fill="#fff" text-anchor="middle">Training quenches</text>
</g>

<g id="dashed-lines">
<g fill="#0000ff">
<rect x="5.7" y="570" width="32" height="7"/><rect x="61.7" y="570" width="32" height="7"/><rect x="117.7" y="570" width="32" height="7"/><rect x="173.7" y="570" width="32" height="7"/><rect x="229.7" y="570" width="32" height="7"/><rect x="285.7" y="570" width="32" height="7"/><rect x="341.7" y="570" width="32" height="7"/><rect x="397.7" y="570" width="32" height="7"/><rect x="453.7" y="570" width="32" height="7"/><rect x="509.7" y="570" width="32" height="7"/><rect x="565.7" y="570" width="32" height="7"/><rect x="621.7" y="570" width="32" height="7"/><rect x="677.7" y="570" width="32" height="7"/><rect x="733.7" y="570" width="32" height="7"/><rect x="789.7" y="570" width="32" height="7"/><rect x="845.7" y="570" width="32" height="7"/><rect x="901.7" y="570" width="32" height="7"/><rect x="957.7" y="570" width="32" height="7"/><rect x="1013.7" y="570" width="32" height="7"/><rect x="1069.7" y="570" width="32" height="7"/><rect x="1125.7" y="570" width="32" height="7"/>
</g>
<g fill="#66ff33">
<rect x="5.7" y="670" width="32" height="7"/><rect x="61.7" y="670" width="32" height="7"/><rect x="117.7" y="670" width="32" height="7"/><rect x="173.7" y="670" width="32" height="7"/><rect x="229.7" y="670" width="32" height="7"/><rect x="285.7" y="670" width="32" height="7"/><rect x="341.7" y="670" width="32" height="7"/><rect x="397.7" y="670" width="32" height="7"/><rect x="453.7" y="670" width="32" height="7"/><rect x="509.7" y="670" width="32" height="7"/><rect x="565.7" y="670" width="32" height="7"/><rect x="621.7" y="670" width="32" height="7"/><rect x="677.7" y="670" width="32" height="7"/><rect x="733.7" y="670" width="32" height="7"/><rect x="789.7" y="670" width="32" height="7"/><rect x="845.7" y="670" width="32" height="7"/><rect x="901.7" y="670" width="32" height="7"/><rect x="957.7" y="670" width="32" height="7"/><rect x="1013.7" y="670" width="32" height="7"/><rect x="1069.7" y="670" width="32" height="7"/><rect x="1125.7" y="670" width="32" height="7"/>
</g>
</g>

<g id="left-axis">
<rect x="64" y="63" width="15" height="749" fill="#fdf0e6"/>
<rect x="79.5" y="63" width="3.5" height="749" fill="url(#tk)"/>
<path d="M48 63V812M64 63V812M32 63V812M48 117H64M48 235H64M48 353H64M48 472H64M48 578H64M48 700H64M32 353H48" stroke="#f5e6dc" stroke-width=".6" fill="none"/>
<text class="yr" transform="rotate(-90 42 206)" x="42" y="210">2021</text>
<text class="yr" transform="rotate(-90 42 584)" x="42" y="588">2022</text>
<text class="mo" transform="rotate(-90 57 90)" x="57" y="92.5">OCT</text>
<text class="mo" transform="rotate(-90 57 176)" x="57" y="178.5">NOV</text>
<text class="mo" transform="rotate(-90 57 308)" x="57" y="310.5">DEC</text>
<text class="mo" transform="rotate(-90 57 413)" x="57" y="415.5">JAN</text>
<text class="mo" transform="rotate(-90 57 524)" x="57" y="526.5">FEB</text>
<text class="mo" transform="rotate(-90 57 625)" x="57" y="627.5">MAR</text>
<text class="mo" transform="rotate(-90 57 765)" x="57" y="767.5">APR</text>
<g class="ax">
<text transform="rotate(-90 71 77)" x="71" y="78.5">42</text>
<text transform="rotate(-90 71 104)" x="71" y="105.5">43</text>
<text transform="rotate(-90 71 131)" x="71" y="132.5">44</text>
<text transform="rotate(-90 71 158)" x="71" y="159.5">45</text>
<text transform="rotate(-90 71 185)" x="71" y="186.5">46</text>
<text transform="rotate(-90 71 212)" x="71" y="213.5">47</text>
<text transform="rotate(-90 71 239)" x="71" y="240.5">48</text>
<text transform="rotate(-90 71 266)" x="71" y="267.5">49</text>
<text transform="rotate(-90 71 293)" x="71" y="294.5">50</text>
<text transform="rotate(-90 71 320)" x="71" y="321.5">51</text>
<text transform="rotate(-90 71 348)" x="71" y="349.5">52</text>
<text transform="rotate(-90 71 375)" x="71" y="376.5">1</text>
<text transform="rotate(-90 71 402)" x="71" y="403.5">2</text>
<text transform="rotate(-90 71 429)" x="71" y="430.5">3</text>
<text transform="rotate(-90 71 456)" x="71" y="457.5">4</text>
<text transform="rotate(-90 71 483)" x="71" y="484.5">5</text>
<text transform="rotate(-90 71 510)" x="71" y="511.5">6</text>
<text transform="rotate(-90 71 537)" x="71" y="538.5">7</text>
<text transform="rotate(-90 71 564)" x="71" y="565.5">8</text>
<text transform="rotate(-90 71 591)" x="71" y="592.5">9</text>
<text transform="rotate(-90 71 618)" x="71" y="619.5">10</text>
<text transform="rotate(-90 71 645)" x="71" y="646.5">11</text>
<text transform="rotate(-90 71 698)" x="71" y="699.5">13</text>
<text transform="rotate(-90 71 724)" x="71" y="725.5">14</text>
<text transform="rotate(-90 71 751)" x="71" y="752.5">15</text>
<text transform="rotate(-90 71 779)" x="71" y="780.5">16</text>
<text transform="rotate(-90 71 806)" x="71" y="807.5">17</text>
</g>
</g>

<g id="right-axis">
<rect x="1080" y="63" width="17" height="749" fill="#fdf0e6"/>
<rect x="1075.5" y="63" width="3.5" height="749" fill="url(#tk)"/>
<path d="M1097 63V812M1112 63V812M1130 63V812M1097 117H1112M1097 235H1112M1097 353H1112M1097 472H1112M1097 578H1112M1097 672H1112M1112 353H1130" stroke="#f5e6dc" stroke-width=".6" fill="none"/>
<text class="yr" transform="rotate(-90 1118 205)" x="1118" y="209">2021</text>
<text class="yr" transform="rotate(-90 1118 580)" x="1118" y="584">2022</text>
<text class="mo" transform="rotate(-90 1104 88)" x="1104" y="90.5">OCT</text>
<text class="mo" transform="rotate(-90 1104 175)" x="1104" y="177.5">NOV</text>
<text class="mo" transform="rotate(-90 1104 291)" x="1104" y="293.5">DEC</text>
<text class="mo" transform="rotate(-90 1104 413)" x="1104" y="415.5">JAN</text>
<text class="mo" transform="rotate(-90 1104 523)" x="1104" y="525.5">FEB</text>
<text class="mo" transform="rotate(-90 1104 621)" x="1104" y="623.5">MAR</text>
<text class="mo" transform="rotate(-90 1104 757)" x="1104" y="759.5">APR</text>
<g class="ax">
<text transform="rotate(-90 1088 77)" x="1088" y="78.5">42</text>
<text transform="rotate(-90 1088 104)" x="1088" y="105.5">43</text>
<text transform="rotate(-90 1088 131)" x="1088" y="132.5">44</text>
<text transform="rotate(-90 1088 158)" x="1088" y="159.5">45</text>
<text transform="rotate(-90 1088 185)" x="1088" y="186.5">46</text>
<text transform="rotate(-90 1088 212)" x="1088" y="213.5">47</text>
<text transform="rotate(-90 1088 239)" x="1088" y="240.5">48</text>
<text transform="rotate(-90 1088 266)" x="1088" y="267.5">49</text>
<text transform="rotate(-90 1088 293)" x="1088" y="294.5">50</text>
<text transform="rotate(-90 1088 320)" x="1088" y="321.5">51</text>
<text transform="rotate(-90 1088 348)" x="1088" y="349.5">52</text>
<text transform="rotate(-90 1088 375)" x="1088" y="376.5">1</text>
<text transform="rotate(-90 1088 402)" x="1088" y="403.5">2</text>
<text transform="rotate(-90 1088 429)" x="1088" y="430.5">3</text>
<text transform="rotate(-90 1088 456)" x="1088" y="457.5">4</text>
<text transform="rotate(-90 1088 483)" x="1088" y="484.5">5</text>
<text transform="rotate(-90 1088 510)" x="1088" y="511.5">6</text>
<text transform="rotate(-90 1088 537)" x="1088" y="538.5">7</text>
<text transform="rotate(-90 1088 564)" x="1088" y="565.5">8</text>
<text transform="rotate(-90 1088 591)" x="1088" y="592.5">9</text>
<text transform="rotate(-90 1088 618)" x="1088" y="619.5">10</text>
<text transform="rotate(-90 1088 645)" x="1088" y="646.5">11</text>
<text transform="rotate(-90 1088 697)" x="1088" y="698.5">13</text>
<text transform="rotate(-90 1088 713)" x="1088" y="714.5">14</text>
<text transform="rotate(-90 1088 729)" x="1088" y="730.5">15</text>
<text transform="rotate(-90 1088 745)" x="1088" y="746.5">16</text>
<text transform="rotate(-90 1088 762)" x="1088" y="763.5">17</text>
<text transform="rotate(-90 1088 779)" x="1088" y="780.5">18</text>
<text transform="rotate(-90 1088 797)" x="1088" y="798.5">19</text>
</g>
</g>

<g id="header">
<rect class="sec" x="119" y="3" width="117" height="14"/><text class="hd" x="177.5" y="14">Sector 12</text>
<rect class="sec" x="256" y="3" width="103" height="14"/><text class="hd" x="307.5" y="14">Sector 23</text>
<rect class="sec" x="380" y="3" width="87" height="14"/><text class="hd" x="423.5" y="14">Sector 34</text>
<rect class="sec" x="488" y="3" width="109" height="14"/><text class="hd" x="542.5" y="14">Sector 45</text>
<rect class="sec" x="617" y="3" width="102" height="14"/><text class="hd" x="668" y="14">Sector 56</text>
<rect class="sec" x="740" y="3" width="88" height="14"/><text class="hd" x="784" y="14">Sector 67</text>
<rect class="sec" x="849" y="3" width="88" height="14"/><text class="hd" x="893" y="14">Sector 78</text>
<rect class="sec" x="957" y="3" width="118" height="14"/><text class="hd" x="1016" y="14">Sector 81</text>
<rect class="sbox" x="83" y="18" width="15" height="44"/><text class="sb" x="90.5" y="44">P1</text>
<rect class="sbox" x="100" y="18" width="16" height="44"/><text class="sb" x="108" y="44">P18</text>
<rect class="sbox" x="119" y="18" width="43" height="44"/><text class="sb" x="140.5" y="29">LSS 1R</text>
<text class="sb" transform="rotate(-90 148 49)" x="148" y="52">UPR17</text>
<rect class="sbox" x="162" y="18" width="30" height="44"/><text class="sb" x="177" y="29">ARC 12</text>
<rect class="sbox" x="192" y="18" width="15" height="44"/><text class="sb" x="199.5" y="44">Ti2</text>
<rect class="sbox" x="207" y="18" width="29" height="44"/><text class="sb" x="221.5" y="29">LSS 2L</text>
<rect class="sbox" x="240" y="18" width="14" height="44"/><text class="sb" x="247" y="44">P2</text>
<rect class="sbox" x="256" y="18" width="29" height="44"/><text class="sb" x="270.5" y="29">LSS 2R</text>
<rect class="sbox" x="285" y="18" width="30" height="44"/><text class="sb" x="300" y="29">ARC 23</text>
<rect class="sbox" x="315" y="18" width="15" height="44"/><text class="sb" x="322.5" y="44">P32</text>
<rect class="sbox" x="330" y="18" width="29" height="44"/><text class="sb" x="344.5" y="29">LSS 3L</text>
<rect class="sbox" x="362" y="18" width="15" height="44"/><text class="sb" x="369.5" y="44">P33</text>
<rect class="sbox" x="380" y="18" width="29" height="44"/><text class="sb" x="394.5" y="29">LSS 3R</text>
<rect class="sbox" x="409" y="18" width="30" height="44"/><text class="sb" x="424" y="29">ARC 34</text>
<rect class="sbox" x="439" y="18" width="28" height="44"/><text class="sb" x="453" y="29">LSS 4L</text>
<rect class="sbox" x="471" y="18" width="15" height="44"/><text class="sb" x="478.5" y="44">P4</text>
<rect class="sbox" x="488" y="18" width="35" height="44"/><text class="sb" x="505.5" y="29">LSS 4R</text>
<rect class="sbox" x="523" y="18" width="30" height="44"/><text class="sb" x="538" y="29">ARC 45</text>
<rect class="sbox" x="553" y="18" width="44" height="44"/><text class="sb" x="575" y="29">LSS 5L</text>
<text class="sb" transform="rotate(-90 567 49)" x="567" y="52">UPRS3</text>
<rect class="sbox" x="600" y="18" width="15" height="44"/><text class="sb" x="607.5" y="44">P5</text>
<rect class="sbox" x="617" y="18" width="43" height="44"/><text class="sb" x="638.5" y="29">LSS 5R</text>
<text class="sb" transform="rotate(-90 649 49)" x="649" y="52">UPRS7</text>
<rect class="sbox" x="660" y="18" width="30" height="44"/><text class="sb" x="675" y="29">ARC 56</text>
<rect class="sbox" x="690" y="18" width="29" height="44"/><text class="sb" x="704.5" y="29">LSS 6L</text>
<rect class="sbox" x="723" y="18" width="15" height="44"/><text class="sb" x="730.5" y="44">P6</text>
<rect class="sbox" x="740" y="18" width="30" height="44"/><text class="sb" x="755" y="29">LSS 6R</text>
<rect class="sbox" x="770" y="18" width="30" height="44"/><text class="sb" x="785" y="29">ARC 67</text>
<rect class="sbox" x="800" y="18" width="28" height="44"/><text class="sb" x="814" y="29">LSS 7L</text>
<rect class="sbox" x="832" y="18" width="15" height="44"/><text class="sb" x="839.5" y="44">P7</text>
<rect class="sbox" x="849" y="18" width="29" height="44"/><text class="sb" x="863.5" y="29">LSS 7R</text>
<rect class="sbox" x="878" y="18" width="30" height="44"/><text class="sb" x="893" y="29">ARC 78</text>
<rect class="sbox" x="908" y="18" width="29" height="44"/><text class="sb" x="922.5" y="29">LSS 8L</text>
<rect class="sbox" x="940" y="18" width="15" height="44"/><text class="sb" x="947.5" y="44">P8</text>
<rect class="sbox" x="957" y="18" width="30" height="44"/><text class="sb" x="972" y="29">LSS 8R</text>
<rect class="sbox" x="987" y="18" width="14" height="44"/><text class="sb" x="994" y="44">Ti8</text>
<rect class="sbox" x="1001" y="18" width="30" height="44"/><text class="sb" x="1016" y="29">ARC 81</text>
<rect class="sbox" x="1031" y="18" width="44" height="44"/><text class="sb" x="1053" y="29">LSS 1L</text>
<text class="sb" transform="rotate(-90 1045 49)" x="1045" y="52">UPR13</text>
<path d="M172 33V62M176 33V62M295 33V62M305 33V62M419 33V62M429 33V62M533 33V62M543 33V62M670 33V62M680 33V62M699 33V62M754 33V62M780 33V62M790 33V62M888 33V62M898 33V62M1011 33V62M1021 33V62" stroke="#d6e8d6" stroke-width=".6"/>
</g>
</svg>
